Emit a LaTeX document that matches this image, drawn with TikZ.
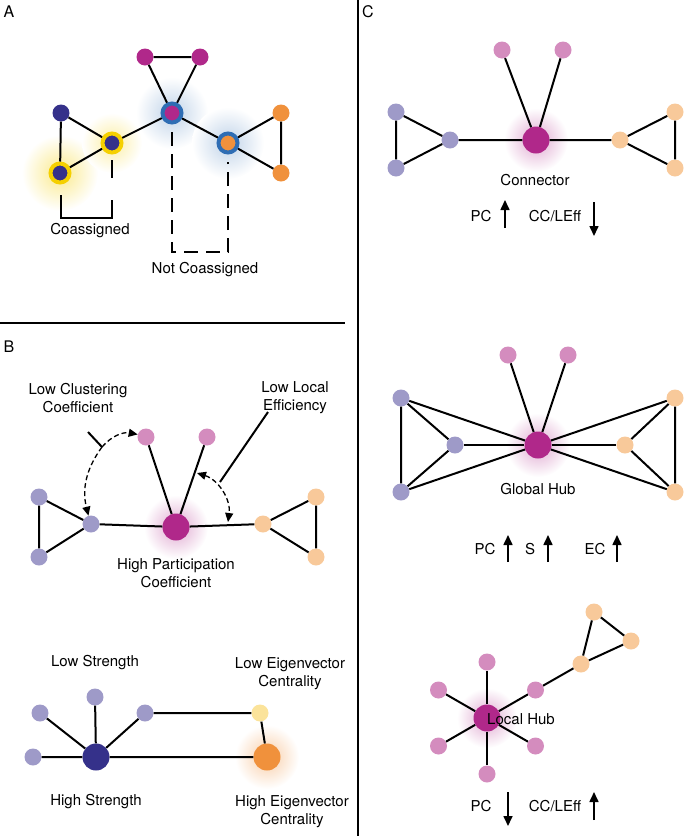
\documentclass[tikz,border=0pt]{standalone}
\usepackage{fontspec}
\setmainfont{TeX Gyre Heros}
\usetikzlibrary{arrows.meta}
\definecolor{mag}{HTML}{B0288A}
\definecolor{navy}{HTML}{35318A}
\definecolor{orng}{HTML}{F0913C}
\definecolor{lav}{HTML}{9E9AC8}
\definecolor{pnk}{HTML}{D48CBE}
\definecolor{pch}{HTML}{F8C99A}
\definecolor{ring}{HTML}{2E6DB4}
\definecolor{yel}{HTML}{F5D000}
\definecolor{lyel}{HTML}{FBE39A}
\tikzset{
  v/.style={circle,inner sep=0pt,minimum size=17pt,fill=#1},
  big/.style={circle,inner sep=0pt,minimum size=27pt,fill=#1},
  ringed/.style={circle,inner sep=0pt,minimum size=19pt,fill=#1,draw=ring,line width=4pt},
  yringed/.style={circle,inner sep=0pt,minimum size=19pt,fill=navy,draw=yel,line width=4pt},
  e/.style={line width=2pt},
  dsh/.style={line width=2pt,dash pattern=on 14pt off 8pt},
  lbl/.style={align=center,font=\fontsize{15}{18}\selectfont},
  pnl/.style={font=\fontsize{16}{18}\selectfont},
  up/.style={line width=1.6pt,-{Triangle[length=10pt,width=9pt]}},
  glow/.style={inner color=#1,outer color=white}
}
\begin{document}
\begin{tikzpicture}[x=1pt,y=-1pt]
\useasboundingbox (0,0) rectangle (685,836);

% Dividers
\draw [line width=1.5pt] (0,323) -- (345,323);
\draw [line width=1.5pt] (358,0) -- (358,836);

% Panel A
\node [pnl] at (9,12) {A};
\shade [glow=yel!45] (60,173) circle (38);
\shade [glow=yel!35] (112,143) circle (30);
\shade [glow=ring!30] (172,113) circle (36);
\shade [glow=ring!30] (228,143) circle (36);
\node [v=mag] (a1) at (145,57) {};
\node [v=mag] (a2) at (200,57) {};
\node [ringed=mag] (ac) at (172,113) {};
\node [v=navy] (a3) at (61,113) {};
\node [yringed] (a4) at (112,143) {};
\node [yringed] (a5) at (60,173) {};
\node [ringed=orng] (a6) at (228,143) {};
\node [v=orng] (a7) at (281,113) {};
\node [v=orng] (a8) at (281,173) {};
\draw [e] (a1) -- (a2) -- (ac) -- (a1);
\draw [e] (ac) -- (a4) (ac) -- (a6);
\draw [e] (a3) -- (a4) -- (a5) -- (a3);
\draw [e] (a6) -- (a7) -- (a8) -- (a6);
\draw [e] (112,160) -- (112,178);
\draw [e] (61,195) -- (61,218) -- (112,218) -- (112,200);
\node [lbl] (coa) at (90,231) {Coassigned};
\draw [dsh] (172,132) -- (172,252) -- (228,252) -- (228,162);
\node [lbl] (ncoa) at (205,270) {Not Coassigned};

% Panel B
\node [pnl] at (9,347) {B};
\shade [glow=mag!40] (176,527) circle (32);
\node [v=pnk] (b1) at (146,437) {};
\node [v=pnk] (b2) at (207,437) {};
\node [big=mag] (bc) at (176,527) {};
\node [v=lav] (b3) at (91,524) {};
\node [v=lav] (b4) at (39,497) {};
\node [v=lav] (b5) at (39,557) {};
\node [v=pch] (b6) at (263,524) {};
\node [v=pch] (b7) at (316,497) {};
\node [v=pch] (b8) at (316,557) {};
\draw [e] (b4) -- (b5) -- (b3) -- (b4);
\draw [e] (b7) -- (b8) -- (b6) -- (b7);
\draw [e] (b3) -- (bc) -- (b6) (bc) -- (b1) (bc) -- (b2);
\node [lbl] (lcc) at (78,398) {Low Clustering\\Coefficient};
\node [lbl] (lle) at (295,398) {Low Local\\Efficiency};
\coordinate (k1) at (102,447);
\coordinate (k2) at (220,482);
\draw [e] (88,432) -- (k1);
\draw [line width=1.3pt,dash pattern=on 5pt off 3pt,-{Triangle[length=9pt,width=8pt]}] (k1) to [bend left=30] (b1);
\draw [line width=1.3pt,dash pattern=on 5pt off 3pt,-{Triangle[length=9pt,width=8pt]}] (k1) to [bend right=25] (b3);
\draw [e] (268,412) -- (k2);
\draw [line width=1.3pt,dash pattern=on 5pt off 3pt,{Triangle[length=9pt,width=8pt]}-{Triangle[length=9pt,width=8pt]}] (197,473) to [bend left=40] (228,522);
\node [lbl] (hpc) at (176,573) {High Participation\\Coefficient};

\shade [glow=orng!45] (267,757) circle (32);
\node [big=navy] (s0) at (96,757) {};
\node [v=lav] (s1) at (40,713) {};
\node [v=lav] (s2) at (95,697) {};
\node [v=lav] (s3) at (145,713) {};
\node [v=lav] (s4) at (33,757) {};
\node [v=lyel] (s5) at (260,713) {};
\node [big=orng] (s6) at (267,757) {};
\draw [e] (s0) -- (s1) (s0) -- (s2) (s0) -- (s3) (s0) -- (s4);
\draw [e] (s3) -- (s5) -- (s6) -- (s0);
\node [lbl] (ls) at (95,663) {Low Strength};
\node [lbl] (lec) at (290,674) {Low Eigenvector\\Centrality};
\node [lbl] (hs) at (96,802) {High Strength};
\node [lbl] (hec) at (292,812) {High Eigenvector\\Centrality};

% Panel C : connector
\node [pnl] at (368,12) {C};
\shade [glow=mag!40] (536,140) circle (32);
\node [v=pnk] (c1) at (502,50) {};
\node [v=pnk] (c2) at (563,50) {};
\node [big=mag] (cc) at (536,140) {};
\node [v=lav] (c3) at (450,140) {};
\node [v=lav] (c4) at (396,112) {};
\node [v=lav] (c5) at (396,168) {};
\node [v=pch] (c6) at (620,140) {};
\node [v=pch] (c7) at (675,112) {};
\node [v=pch] (c8) at (675,168) {};
\draw [e] (c4) -- (c5) -- (c3) -- (c4);
\draw [e] (c7) -- (c8) -- (c6) -- (c7);
\draw [e] (c3) -- (cc) -- (c6) (cc) -- (c1) (cc) -- (c2);
\node [lbl] (con) at (535,180) {Connector};
\node [lbl] at (481,216) {PC};
\draw [up] (505,228) -- (505,200);
\node [lbl] at (555,216) {CC/LEff};
\draw [up] (594,202) -- (594,236);

% Panel C : global hub
\shade [glow=mag!40] (538,445) circle (32);
\node [v=pnk] (g1) at (508,355) {};
\node [v=pnk] (g2) at (568,355) {};
\node [big=mag] (gc) at (538,445) {};
\node [v=lav] (g3) at (455,445) {};
\node [v=lav] (g4) at (401,398) {};
\node [v=lav] (g5) at (401,492) {};
\node [v=pch] (g6) at (625,445) {};
\node [v=pch] (g7) at (675,398) {};
\node [v=pch] (g8) at (675,492) {};
\draw [e] (g4) -- (g5) -- (g3) -- (g4);
\draw [e] (g7) -- (g8) -- (g6) -- (g7);
\foreach \n in {g1,g2,g3,g4,g5,g6,g7,g8}
  \draw [e] (gc) -- (\n);
\node [lbl] (gh) at (538,489) {Global Hub};
\node [lbl] at (485,549) {PC};
\draw [up] (508,562) -- (508,535);
\node [lbl] at (530,549) {S};
\draw [up] (548,562) -- (548,535);
\node [lbl] at (595,549) {EC};
\draw [up] (617,562) -- (617,535);

% Panel C : local hub
\shade [glow=mag!40] (487,718) circle (30);
\node [big=mag] (lc) at (487,718) {};
\foreach \a [count=\i] in {270,210,150,90,330,30}
  \node [v=pnk] (l\i) at ([shift={(487,718)}]\a:56) {};
\node [v=pch] (l7) at (581,664) {};
\node [v=pch] (l8) at (594,612) {};
\node [v=pch] (l9) at (631,641) {};
\foreach \i in {1,...,6}
  \draw [e] (lc) -- (l\i);
\draw [e] (l7) -- (l8) -- (l9) -- (l7);
\draw [e] (l5) -- (l7);
\node [lbl] (lh) at (521,719) {Local Hub};
\node [lbl] at (481,806) {PC};
\draw [up] (508,792) -- (508,826);
\node [lbl] at (555,806) {CC/LEff};
\draw [up] (594,820) -- (594,792);
\end{tikzpicture}
\end{document}
